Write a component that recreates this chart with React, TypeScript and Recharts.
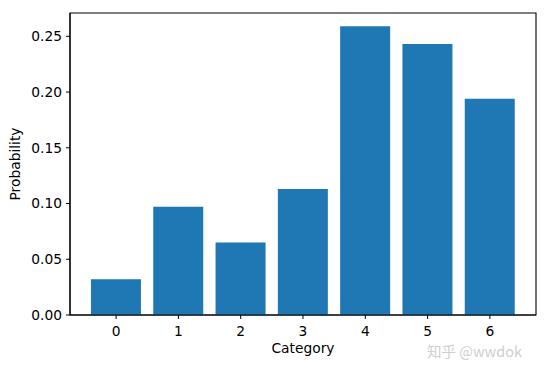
import { BarChart, Bar, XAxis, YAxis, ReferenceArea, Label } from 'recharts'

const categories = [0, 1, 2, 3, 4, 5, 6]
const probabilities = [0.032, 0.097, 0.065, 0.113, 0.259, 0.243, 0.194]
const yTicks = [0, 0.05, 0.1, 0.15, 0.2, 0.25]

const X_DOMAIN: [number, number] = [-0.74, 6.74]
const Y_DOMAIN: [number, number] = [0, 0.2709]

const data = categories.map((c, i) => ({ category: c, probability: probabilities[i] }))

const FONT = 'DejaVu Sans, sans-serif'
const tickStyle = { fill: '#000', fontSize: 13.8, fontFamily: FONT }

const App = () => {
  return (
    <div style={{ position: 'absolute', left: 0, top: 0, background: '#fff' }}>
      <BarChart width={548} height={368} data={data} margin={{ top: 13, right: 12, bottom: 0, left: 0 }}>
        {/* frame like matplotlib spines */}
        <ReferenceArea
          x1={X_DOMAIN[0]}
          x2={X_DOMAIN[1]}
          y1={Y_DOMAIN[0]}
          y2={Y_DOMAIN[1]}
          fill="none"
          stroke="#000"
          strokeWidth={1.1}
          ifOverflow="visible"
        />
        <XAxis
          dataKey="category"
          type="number"
          domain={X_DOMAIN}
          ticks={categories}
          allowDataOverflow
          height={53}
          tick={tickStyle}
          tickSize={4}
          tickMargin={7}
          axisLine={{ stroke: '#000', strokeWidth: 1.1 }}
          tickLine={{ stroke: '#000' }}
        >
          <Label
            value="Category"
            position="insideBottom"
            offset={15}
            style={{ fill: '#000', fontSize: 13.8, fontFamily: FONT }}
          />
        </XAxis>
        <YAxis
          type="number"
          domain={Y_DOMAIN}
          ticks={yTicks}
          allowDataOverflow
          width={70}
          tick={tickStyle}
          tickSize={4}
          tickMargin={4}
          tickFormatter={(v: number) => v.toFixed(2)}
          axisLine={{ stroke: '#000', strokeWidth: 1.1 }}
          tickLine={{ stroke: '#000' }}
        >
          <Label
            content={(props: any) => {
              const vb = props.viewBox
              const cy = vb.y + vb.height / 2
              return (
                <text
                  x={20}
                  y={cy}
                  transform={`rotate(-90, 20, ${cy})`}
                  textAnchor="middle"
                  fill="#000"
                  fontSize={13.8}
                  fontFamily={FONT}
                >
                  Probability
                </text>
              )
            }}
          />
        </YAxis>
        <Bar dataKey="probability" fill="#1f77b4" barSize={50} isAnimationActive={false} />
        {/* watermark */}
        <text x={427} y={357} fill="#cfcfcf" fontSize={14.5} fontFamily="Noto Sans CJK SC, sans-serif">
          知乎 @wwdok
        </text>
      </BarChart>
    </div>
  )
}

export default App
